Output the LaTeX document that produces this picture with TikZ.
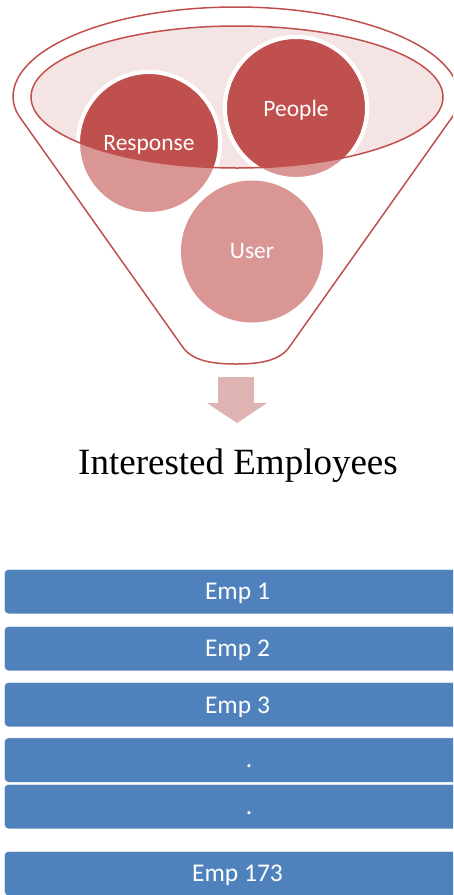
\documentclass[tikz,border=0pt]{standalone}
\usepackage{fontspec}
\setmainfont{Liberation Serif}
\newfontfamily\calib{Carlito}
\definecolor{darkred}{HTML}{C0504D}
\definecolor{lightred}{HTML}{D99694}
\definecolor{palered}{HTML}{F4E4E4}
\definecolor{arrowred}{HTML}{DFB3B2}
\definecolor{barblue}{HTML}{4F81BD}
\begin{document}
\begin{tikzpicture}[x=1pt,y=-1pt,
  funnelline/.style={draw=darkred, line width=1.5pt},
  circnode/.style={circle, minimum size=142pt, inner sep=0pt, fill=lightred, draw=white, line width=4pt},
  circtext/.style={anchor=base, inner sep=0pt, text=white, font=\calib\fontsize{23.5}{28}\selectfont},
  barbox/.style={rectangle, rounded corners=4pt, anchor=north west, minimum width=467pt, minimum height=44.5pt, inner sep=0pt, fill=barblue, draw=white, line width=0.6pt},
  bartext/.style={anchor=base, inner sep=0pt, text=white, font=\calib\fontsize{25.5}{30}\selectfont}]
\useasboundingbox (0,0) rectangle (453,895);
\clip (0,0) rectangle (453,895);
% funnel outline
\draw[funnelline] (182,346) -- (19,116) .. controls (15,110) and (13,103) .. (13,97)
  arc[start angle=180, end angle=360, x radius=223, y radius=90]
  .. controls (459,103) and (457,110) .. (453,116) -- (290,346)
  .. controls (280,362) and (256,364) .. (236,364)
  .. controls (216,364) and (192,362) .. (182,346) -- cycle;
% inner ellipse fill
\fill[palered] (237,97) ellipse[x radius=206, y radius=71];
% circles (light)
\node[circnode] (resp) at (149,143) {};
\node[circnode] (people) at (296,108) {};
\node[circnode, draw=none] (user) at (252,251.5) {};
% circle parts inside ellipse (dark)
\begin{scope}
  \clip (237,97) ellipse[x radius=206, y radius=71];
  \fill[darkred] (resp.center) circle[radius=71];
  \draw[white, line width=4pt] (resp.center) circle[radius=71];
  \fill[darkred] (people.center) circle[radius=71];
  \draw[white, line width=4pt] (people.center) circle[radius=71];
\end{scope}
\draw[funnelline] (237,97) ellipse[x radius=206, y radius=71];
% circle labels
\node[circtext] (tresp) at (149,150) {Response};
\node[circtext] (tpeople) at (296,116) {People};
\node[circtext] (tuser) at (252,258) {User};
% arrow
\fill[arrowred] (218,377) -- (254,377) -- (254,403) -- (267,403) -- (237,423) -- (207,403) -- (218,403) -- cycle;
% title
\node[anchor=base, inner sep=0pt, font=\fontsize{37}{44}\selectfont] (title) at (238,474) {Interested Employees};
% bars
\node[barbox] (b1) at (4,569) {};
\node[barbox] (b2) at (4,626) {};
\node[barbox] (b3) at (4,682) {};
\node[barbox] (b4) at (4,737.5) {};
\node[barbox] (b5) at (4,784) {};
\node[barbox] (b6) at (4,851) {};
\node[bartext] (t1) at (237.5,599.5) {Emp 1};
\node[bartext] (t2) at (237.5,656.5) {Emp 2};
\node[bartext] (t3) at (237.5,713) {Emp 3};
\node[bartext] (t4) at (249,767.5) {.};
\node[bartext] (t5) at (249,814) {.};
\node[bartext] (t6) at (237.5,881) {Emp 173};
\end{tikzpicture}
\end{document}
